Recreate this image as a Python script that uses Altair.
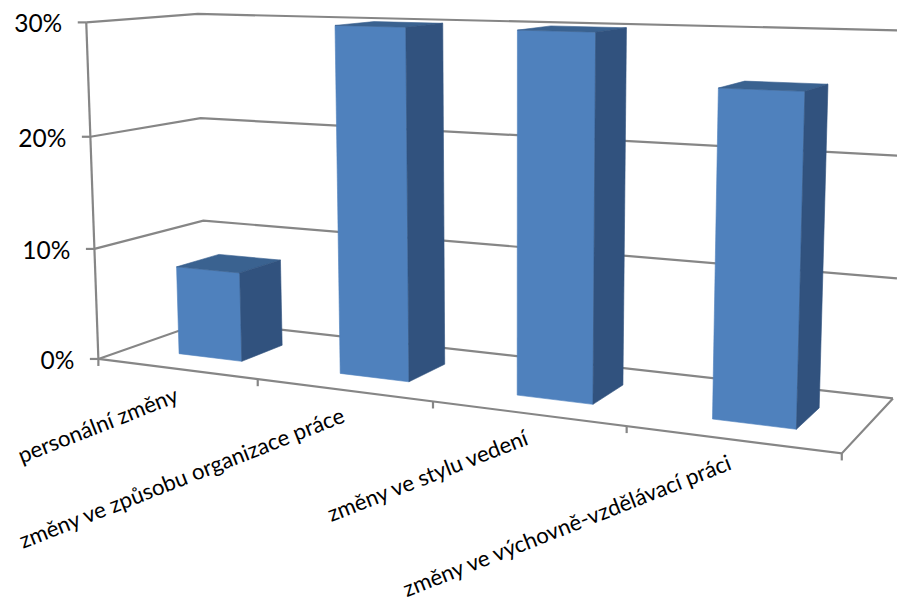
import altair as alt
import numpy as np
import pandas as pd

# Chart content
categories = [
    "personální změny",
    "změny ve způsobu organizace práce",
    "změny ve stylu vedení",
    "změny ve výchovně-vzdělávací práci",
]
values = [8.0, 30.0, 30.0, 26.0]
axis_ticks = [0, 10, 20, 30]

# Bar footprint inside a category slot and inside the chart's depth
BAR_LEFT = 0.32
BAR_RIGHT = 0.72
DEPTH_FRONT = 0.28
DEPTH_BACK = 0.68

FONT = "Lato"
GRID = "#868686"
FRONT = "#4F81BD"
SIDE = "#31527E"
TOP = "#3A6290"

# Camera: world (category, depth, percent) against canvas position of the box corners
world = np.array([
    (0, 0, 0), (1, 0, 0), (2, 0, 0), (3, 0, 0), (4, 0, 0),
    (4, 1, 0), (0, 1, 0), (0, 0, 10), (0, 0, 20), (0, 0, 30),
    (0, 1, 10), (0, 1, 20), (0, 1, 30), (4, 1, 30),
], dtype=float)
canvas = np.array([
    (99.5, 358.5), (257.7, 379), (432.7, 401.5), (626, 426), (842.7, 453.5),
    (893, 398), (204, 322), (95, 249), (90, 137), (85, 22.7),
    (204, 221), (201.7, 117.7), (198.3, 13.3), (905, 31),
], dtype=float)

rows, rhs = [], []
for (a, b, c), (u, v) in zip(world, canvas):
    rows.append([a, b, c, 1, 0, 0, 0, 0, -u * a, -u * b, -u * c])
    rows.append([0, 0, 0, 0, a, b, c, 1, -v * a, -v * b, -v * c])
    rhs += [u, v]
camera = np.append(np.linalg.lstsq(np.array(rows), np.array(rhs), rcond=None)[0], 1).reshape(3, 4)


def project(cat, depth, pct):
    u, v, w = camera @ np.array([cat, depth, pct, 1.0])
    return float(u / w), float(v / w)


def polyline(key, corners):
    return [{"key": key, "n": n, "px": p[0], "py": p[1]}
            for n, p in enumerate(project(*c) for c in corners)]


# Wire frame: axis, floor, gridlines on the side and back walls, tick stubs
frame_rows = []
frame_rows += polyline("axis", [(0, 0, 0), (0, 0, axis_ticks[-1])])
frame_rows += polyline("floor", [(0, 0, 0), (4, 0, 0), (4, 1, 0)])
for t in axis_ticks:
    frame_rows += polyline(f"grid{t}", [(0, 0, t), (0, 1, t), (4, 1, t)])
    x0, y0 = project(0, 0, t)
    frame_rows += [{"key": f"ytick{t}", "n": 0, "px": x0, "py": y0},
                   {"key": f"ytick{t}", "n": 1, "px": x0 - 8.5, "py": y0}]
for i in range(len(categories) + 1):
    x0, y0 = project(i, 0, 0)
    frame_rows += [{"key": f"xtick{i}", "n": 0, "px": x0, "py": y0},
                   {"key": f"xtick{i}", "n": 1, "px": x0, "py": y0 + 7}]

# Bar faces
front_rows, side_rows, top_rows = [], [], []
for i, val in enumerate(values):
    a, b = i + BAR_LEFT, i + BAR_RIGHT
    d0, d1 = DEPTH_FRONT, DEPTH_BACK
    front_rows += polyline(f"f{i}", [(a, d0, 0), (b, d0, 0), (b, d0, val), (a, d0, val), (a, d0, 0)])
    side_rows += polyline(f"s{i}", [(b, d0, 0), (b, d1, 0), (b, d1, val), (b, d0, val), (b, d0, 0)])
    top_rows += polyline(f"t{i}", [(a, d0, val), (b, d0, val), (b, d1, val), (a, d1, val), (a, d0, val)])

y_labels = []
for t in axis_ticks:
    x0, y0 = project(0, 0, t)
    y_labels.append({"label": f"{t}%", "px": x0 - 24, "py": y0 + 3})
cat_labels = []
for i, name in enumerate(categories):
    x0, y0 = project(i + 0.5, 0, 0)
    # Labels creep closer to the front edge toward the right
    cat_labels.append({"label": name, "px": x0 + 1 - i * 0.7, "py": y0 + 26 - i})

x_enc = alt.X("px:Q", axis=None, scale=alt.Scale(domain=[0, 897], range=[0, 897], nice=False, zero=False))
y_enc = alt.Y("py:Q", axis=None, scale=alt.Scale(domain=[601, 0], range=[601, 0], nice=False, zero=False))


def wire(rows_):
    return alt.Chart(pd.DataFrame(rows_)).mark_line(color=GRID, strokeWidth=2.2, clip=False).encode(
        x=x_enc, y=y_enc, detail="key:N", order="n:Q")


def face(rows_, colour):
    return alt.Chart(pd.DataFrame(rows_)).mark_line(
        color=colour, fill=colour, stroke=colour, strokeWidth=0.6, clip=False
    ).encode(x=x_enc, y=y_enc, detail="key:N", order="n:Q")


y_text = alt.Chart(pd.DataFrame(y_labels)).mark_text(
    align="right", baseline="middle", font=FONT, fontSize=24.5, color="#000000"
).encode(x=x_enc, y=y_enc, text="label:N")

cat_text = alt.Chart(pd.DataFrame(cat_labels)).mark_text(
    align="right", baseline="middle", angle=338.5, font=FONT, fontSize=22.2, color="#000000"
).encode(x=x_enc, y=y_enc, text="label:N")

chart = alt.layer(
    wire(frame_rows),
    face(front_rows, FRONT),
    face(top_rows, TOP),
    face(side_rows, SIDE),
    y_text,
    cat_text,
).properties(
    width=897, height=601, padding=0, autosize=alt.AutoSizeParams(type="none")
).configure_view(stroke=None)

chart.save("out.html", embed_options={"renderer": "svg", "actions": False})
